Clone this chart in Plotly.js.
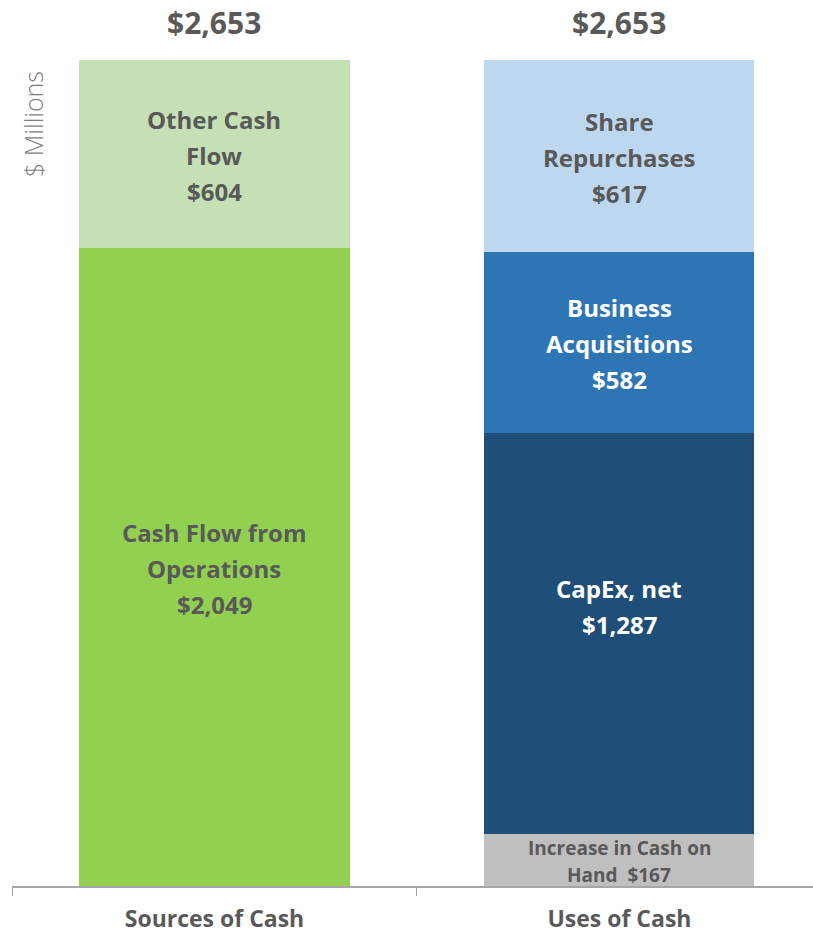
<!DOCTYPE html>
<html><head><meta charset="utf-8">
<script src="https://cdn.plot.ly/plotly-3.0.1.min.js"></script>
<style>html,body{margin:0;padding:0;overflow:hidden;background:#fff}#chart{width:813px;height:936px}</style>
</head><body><div id="chart"></div>
<script>
const categories = ["Sources of Cash", "Uses of Cash"];
const totals = [2653, 2653];
const totalLabels = ["$2,653", "$2,653"];

const sourcesNames = ["Cash Flow from Operations", "Other Cash Flow"];
const sourcesValues = [2049, 604];
const sourcesLabels = [["Cash Flow from", "Operations", "$2,049"], ["Other Cash", "Flow", "$604"]];

const usesNames = ["Increase in Cash on Hand", "CapEx, net", "Business Acquisitions", "Share Repurchases"];
const usesValues = [167, 1287, 582, 617];
const usesLabels = [["Increase in Cash on", "Hand  $167"], ["CapEx, net", "$1,287"], ["Business", "Acquisitions", "$582"], ["Share", "Repurchases", "$617"]];

const sourcesColors = ["#92d050", "#c5e0b4"];
const usesColors = ["#bfbfbf", "#1f4e79", "#2e75b6", "#bdd7ee"];
const sourcesTextColors = ["#595959", "#595959"];
const usesTextColors = ["#595959", "#ffffff", "#ffffff", "#595959"];
const usesFontSizes = [19, 24, 24, 24];
const usesSpacing = [27, 36, 36, 36];
const usesExtraShift = [-1, 27, -1, -1];

const FONT = "'Open Sans', 'DejaVu Sans', sans-serif";
const traces = [];
const annotations = [];

function addSegments(cat, names, values, labels, colors, tcolors, sizes, spacings, extras) {
  let base = 0;
  values.forEach((v, i) => {
    traces.push({
      type: "bar", x: [cat], y: [v], name: names[i],
      marker: {color: colors[i], line: {width: 0}},
      hoverinfo: "name+y"
    });
    const mid = base + v / 2;
    const lines = labels[i];
    const n = lines.length;
    lines.forEach((ln, j) => {
      annotations.push({
        x: cat, y: mid, xref: "x", yref: "y",
        text: "<b>" + ln + "</b>", showarrow: false,
        yanchor: "middle", xanchor: "center",
        yshift: ((n - 1) / 2 - j) * spacings[i] + extras[i],
        font: {family: FONT, size: sizes[i], color: tcolors[i]}
      });
    });
    base += v;
  });
}

addSegments(categories[0], sourcesNames, sourcesValues, sourcesLabels, sourcesColors, sourcesTextColors, [24, 24], [36, 36], [-1, -1]);
addSegments(categories[1], usesNames, usesValues, usesLabels, usesColors, usesTextColors, usesFontSizes, usesSpacing, usesExtraShift);

categories.forEach((c, i) => {
  annotations.push({
    x: c, y: totals[i], xref: "x", yref: "y",
    text: "<b>" + totalLabels[i] + "</b>", showarrow: false,
    yanchor: "middle", yshift: 38,
    font: {family: FONT, size: 30, color: "#595959"}
  });
});

annotations.push({
  xref: "paper", yref: "paper", x: 0, y: 1, xanchor: "center", yanchor: "middle",
  xshift: 21, yshift: -64, textangle: -90, showarrow: false,
  text: "$ Millions",
  font: {family: "'Open Sans', sans-serif", size: 25, color: "#7f7f7f", weight: 300}
});

const layout = {
  width: 813, height: 936,
  margin: {l: 12, r: 0, t: 60, b: 50, pad: 0},
  barmode: "stack", bargap: 0.333,
  showlegend: false,
  paper_bgcolor: "#ffffff", plot_bgcolor: "#ffffff",
  xaxis: {
    type: "category", range: [-0.5, 1.478],
    tickson: "boundaries", ticks: "outside", ticklen: 8, tickcolor: "#a6a6a6", tickwidth: 1,
    showline: true, linecolor: "#a6a6a6", linewidth: 1.5,
    showgrid: false, zeroline: false,
    tickfont: {family: FONT, size: 23, color: "#595959", weight: "bold"},
    ticklabelstandoff: 12
  },
  yaxis: {
    range: [0, 2653], visible: false, showgrid: false, zeroline: false, fixedrange: true
  },
  annotations: annotations
};

Plotly.newPlot("chart", traces, layout, {displayModeBar: false, staticPlot: true});
</script></body></html>
